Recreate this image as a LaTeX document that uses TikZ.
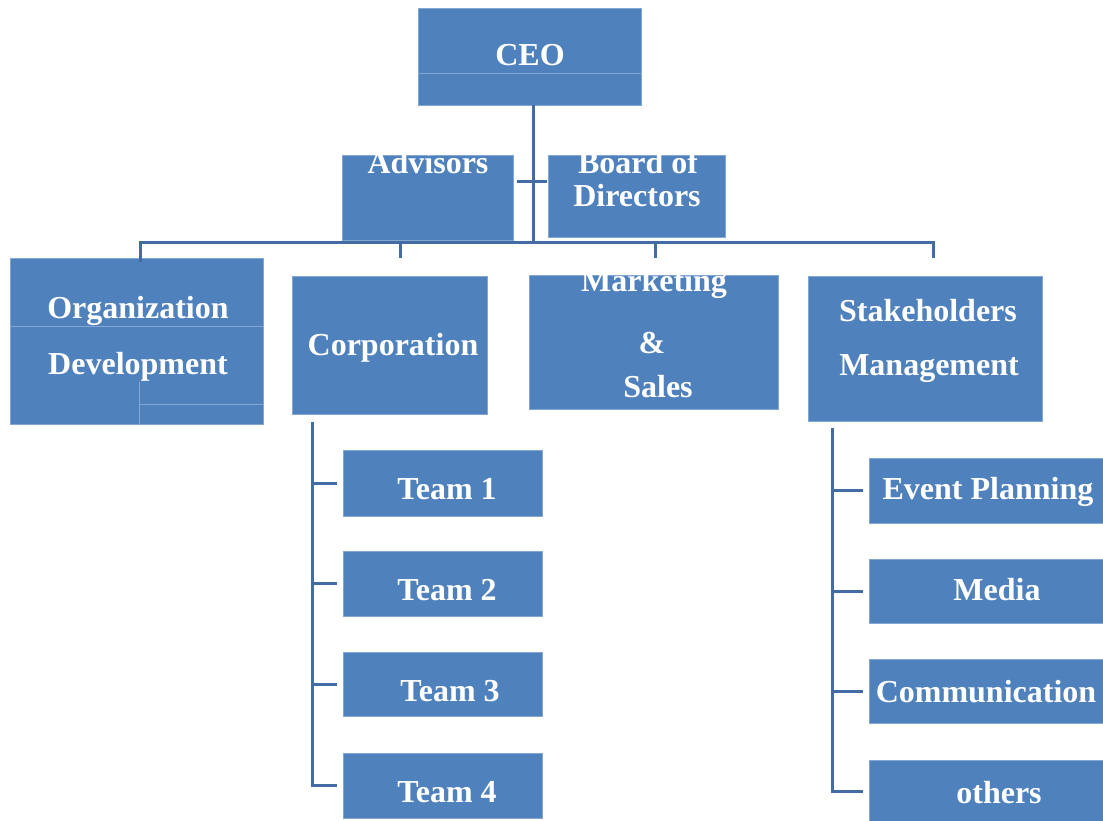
\documentclass[tikz,border=0pt]{standalone}
\usepackage{fontspec}
\setmainfont{Liberation Serif}
\definecolor{boxblue}{RGB}{79,129,189}
\definecolor{edgeblue}{RGB}{132,166,210}
\definecolor{linkblue}{RGB}{66,108,163}
\begin{document}
\begin{tikzpicture}[x=1pt,y=-1pt,
  unit/.style={fill=boxblue, draw=edgeblue, line width=0.6pt, inner sep=0pt, outer sep=0pt, anchor=north west},
  lbl/.style={text=white, font=\fontsize{32}{34}\selectfont\bfseries, anchor=base, inner sep=0pt},
  link/.style={draw=linkblue, line width=3pt},
  faint/.style={draw=edgeblue, line width=0.8pt}]
% page
\fill[white] (0,0) rectangle (1103,820);
\useasboundingbox (0,0) rectangle (1103,820);

% boxes
\node[unit, minimum width=223pt, minimum height=97pt]  (ceo)  at (418,8)   {};
\node[unit, minimum width=171pt, minimum height=85pt]  (adv)  at (342,155) {};
\node[unit, minimum width=177pt, minimum height=82pt]  (bod)  at (548,155) {};
\node[unit, minimum width=253pt, minimum height=166pt] (org)  at (10,258)  {};
\node[unit, minimum width=195pt, minimum height=138pt] (corp) at (292,276) {};
\node[unit, minimum width=249pt, minimum height=134pt] (mkt)  at (529,275) {};
\node[unit, minimum width=234pt, minimum height=145pt] (stk)  at (808,276) {};

\node[unit, minimum width=199pt, minimum height=66pt] (t1) at (343,450) {};
\node[unit, minimum width=199pt, minimum height=65pt] (t2) at (343,551) {};
\node[unit, minimum width=199pt, minimum height=64pt] (t3) at (343,652) {};
\node[unit, minimum width=199pt, minimum height=65pt] (t4) at (343,753) {};

\node[unit, minimum width=236pt, minimum height=65pt] (ev)  at (869,458) {};
\node[unit, minimum width=236pt, minimum height=64pt] (med) at (869,559) {};
\node[unit, minimum width=236pt, minimum height=64pt] (com) at (869,659) {};
\node[unit, minimum width=236pt, minimum height=62pt] (oth) at (869,760) {};

% thin seams inside boxes
\draw[faint] (ceo.north west) ++(0,65) -- ++(223,0);
\draw[faint] (org.north west) ++(0,68) -- ++(253,0);
\draw[faint] (org.north west) ++(129,124) -- ++(0,42);
\draw[faint] (org.north west) ++(129,146) -- ++(124,0);

% connectors
\coordinate (hub)  at (533,242);
\coordinate (busL) at (140,242);
\coordinate (busR) at (933,242);
\coordinate (orgdrop)  at (140,262);
\coordinate (corpdrop) at (400,258);
\coordinate (mktdrop)  at (655,258);
\coordinate (stkdrop)  at (933,258);
\coordinate (crossL) at (517,181);
\coordinate (crossR) at (547,181);

\draw[link] (hub |- ceo.south) -- ([yshift=-2pt]hub);
\draw[link] ([xshift=-1.5pt]busL) -- ([xshift=1.5pt]busR);
\draw[link] (busL) -- (orgdrop);
\draw[link] (corpdrop |- busL) -- (corpdrop);
\draw[link] (mktdrop |- busL) -- (mktdrop);
\draw[link] (busR) -- (stkdrop);
\draw[link] (crossL) -- (crossR);

% teams under Corporation
\coordinate (corpspine) at (312,422);
\draw[link] (corpspine) -- (corpspine |- t4.west) -- ([xshift=-6pt]t4.west);
\foreach \t in {t1,t2,t3}
  \draw[link] (corpspine |- \t.west) -- ([xshift=-6pt]\t.west);

% units under Stakeholders Management
\coordinate (stkspine) at (832,428);
\draw[link] (stkspine) -- (stkspine |- oth.west) -- ([xshift=-6pt]oth.west);
\foreach \t in {ev,med,com}
  \draw[link] (stkspine |- \t.west) -- ([xshift=-6pt]\t.west);

% labels
\node[lbl] (ceo-l)  at (530,65)  {CEO};
\node[lbl] (adv-l)  at (428,173) {Advisors};
\node[lbl] (bod-l1) at (638,173) {Board of};
\node[lbl] (bod-l2) at (637,206) {Directors};
\node[lbl] (org-l1) at (138,318) {Organization};
\node[lbl] (org-l2) at (138,374) {Development};
\node[lbl] (corp-l) at (393,355) {Corporation};
\node[lbl] (mkt-l1) at (654,291) {Marketing};
\node[lbl] (mkt-l2) at (652,353) {\&};
\node[lbl] (mkt-l3) at (658,397) {Sales};
\node[lbl] (stk-l1) at (928,321) {Stakeholders};
\node[lbl] (stk-l2) at (929,375) {Management};
\node[lbl] (t1-l) at (447,499) {Team 1};
\node[lbl] (t2-l) at (447,600) {Team 2};
\node[lbl] (t3-l) at (450,701) {Team 3};
\node[lbl] (t4-l) at (447,802) {Team 4};
\node[lbl] (ev-l)  at (988,499) {Event Planning};
\node[lbl] (med-l) at (997,600) {Media};
\node[lbl] (com-l) at (986,702) {Communication};
\node[lbl] (oth-l) at (999,803) {others};
\end{tikzpicture}
\end{document}
